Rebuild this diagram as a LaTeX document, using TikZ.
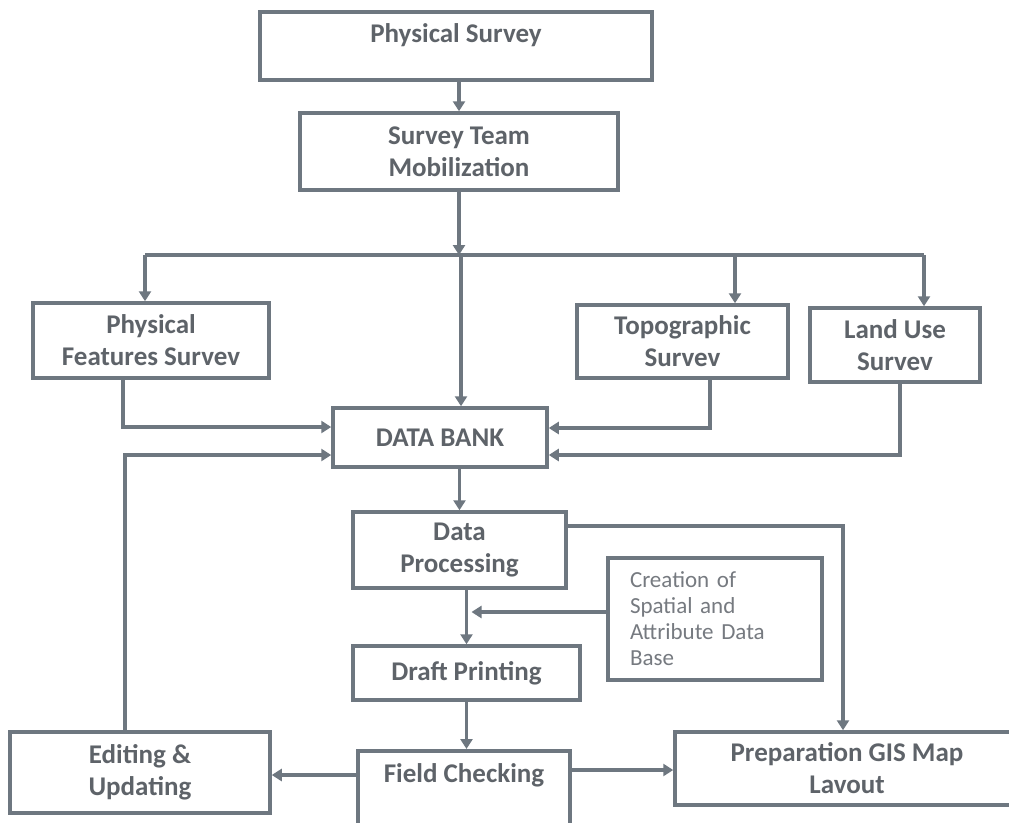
\documentclass[tikz,border=0pt]{standalone}
\usepackage{fontspec}
\setmainfont{Carlito}
\usetikzlibrary{arrows.meta}
\definecolor{lncol}{HTML}{6E7780}
\definecolor{txcol}{HTML}{5E6369}
\begin{document}
\begin{tikzpicture}[x=1pt,y=-1pt,
  box/.style={draw=lncol, line width=3.5pt, fill=white, inner sep=2pt, align=center,
    text=txcol, font=\fontsize{27}{32}\selectfont\bfseries},
  arr/.style={draw=lncol, line width=3.5pt, -{Triangle[length=10pt,width=12pt]}},
  plain/.style={draw=lncol, line width=3.5pt},
  lbl/.style={text=txcol, font=\fontsize{27}{32}\selectfont\bfseries, inner sep=2pt}
]
\clip (0,0) rectangle (1009,822);
\fill[white] (0,0) rectangle (1009,822);

% boxes
\node[box, minimum width=392pt, minimum height=68pt, text depth=25pt] (PS) at (456,46) {Physical Survey};
\node[box, minimum width=318pt, minimum height=77pt] (STM) at (459,151.5) {Survey Team\\Mobilization};
\node[box, minimum width=236pt, minimum height=75pt] (PF) at (151,340.5) {Physical\\Features Survev};
\node[box, minimum width=211pt, minimum height=73pt] (TS) at (682.5,341.5) {Topographic\\Survev};
\node[box, minimum width=170pt, minimum height=74pt] (LU) at (895,345) {Land Use\\Survev};
\node[box, minimum width=214pt, minimum height=59pt] (DB) at (440,437.5) {DATA BANK};
\node[box, minimum width=213pt, minimum height=76pt] (DP) at (459.5,550) {Data\\Processing};
\node[box, minimum width=214pt, minimum height=122pt, text width=170pt, align=left,
      font=\fontsize{23}{26}\selectfont, text=txcol!85] (CR) at (715,619)
      {Creation of\\Spatial and\\Attribute Data\\Base};
\node[box, minimum width=227pt, minimum height=54pt] (DR) at (466.5,673) {Draft Printing};
\node[box, minimum width=260pt, minimum height=81pt] (ED) at (140,772.5) {Editing \&\\Updating};
\node[box, minimum width=344pt, minimum height=73pt] (PR) at (847,768.5) {Preparation GIS Map\\Lavout};
\node[box, minimum width=212pt, minimum height=110pt, anchor=north] (FC) at (464,749) {};
\node[lbl] (FCt) at (464,775) {Field Checking};

% connectors
\coordinate (br) at (461,255);
\draw[arr] (PS.south -| STM.north) -- (STM.north);
\draw[plain] ([xshift=-6pt]PF.north |- br) -- ([xshift=29pt]LU.north |- br);
\draw[arr] (STM.south) -- (STM.south |- br);
\draw[arr] (br) -- ([xshift=21pt]DB.north);
\draw[arr] ([xshift=-6pt]PF.north |- br) -- ([xshift=-6pt]PF.north);
\draw[arr] ([xshift=52.5pt]TS.north |- br) -- ([xshift=52.5pt]TS.north);
\draw[arr] ([xshift=29pt]LU.north |- br) -- ([xshift=29pt]LU.north);

\draw[arr] ([xshift=-28pt]PF.south) |- ([yshift=10.5pt]DB.west);
\draw[arr] ([xshift=-15pt]ED.north) |- ([yshift=-17.5pt]DB.west);
\draw[arr] ([xshift=27.5pt]TS.south) |- ([yshift=9.5pt]DB.east);
\draw[arr] ([xshift=5pt]LU.south) |- ([yshift=-17.5pt]DB.east);

\draw[arr] (DB.south -| DP.north) -- (DP.north);
\draw[arr] ([yshift=24pt]DP.east) -| ([xshift=-4pt]PR.north);
\draw[arr] (DP.south -| DR.north) -- (DR.north);
\draw[arr] ([yshift=7pt]CR.west) -- ([xshift=5pt,yshift=7pt]CR.west -| DR.north);
\draw[arr] (DR.south) -- (DR.south |- FC.north);
\draw[arr] (FCt -| FC.west) -- (FCt -| ED.east);
\draw[arr] ([yshift=5pt]FCt -| FC.east) -- ([yshift=5pt]FCt -| PR.west);
\end{tikzpicture}
\end{document}
